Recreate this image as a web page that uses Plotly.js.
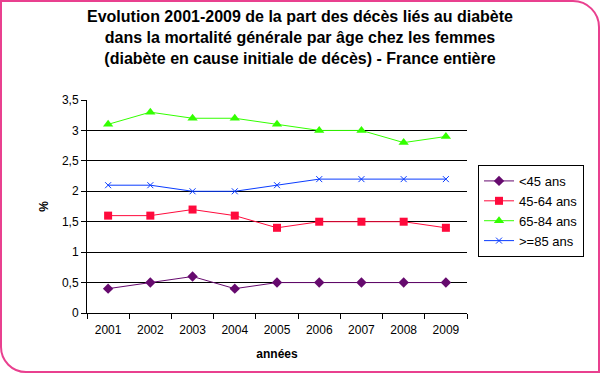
<!DOCTYPE html>
<html>
<head>
<meta charset="utf-8">
<script src="https://cdn.plot.ly/plotly-3.0.1.min.js"></script>
<style>
  html, body { margin: 0; padding: 0; background: #fff; }
  #wrap { position: relative; width: 600px; height: 374px; }
  #chart { position: absolute; left: 0; top: 0; width: 600px; height: 374px; }
  #frame { position: absolute; left: 0; top: 0; width: 600px; height: 373px; box-sizing: border-box;
           border: 2px solid #e9408f; border-radius: 0 27px 0 26px; pointer-events: none; }
</style>
</head>
<body>
<div id="wrap">
  <div id="chart"></div>
  <div id="frame"></div>
</div>
<script>
const years = ["2001","2002","2003","2004","2005","2006","2007","2008","2009"];
const under45 = [0.4, 0.5, 0.6, 0.4, 0.5, 0.5, 0.5, 0.5, 0.5];
const age45to64 = [1.6, 1.6, 1.7, 1.6, 1.4, 1.5, 1.5, 1.5, 1.4];
const age65to84 = [3.1, 3.3, 3.2, 3.2, 3.1, 3.0, 3.0, 2.8, 2.9];
const over85 = [2.1, 2.1, 2.0, 2.0, 2.1, 2.2, 2.2, 2.2, 2.2];
const seriesNames = ["<45 ans", "45-64 ans", "65-84 ans", ">=85 ans"];
const yTickVals = [0, 0.5, 1, 1.5, 2, 2.5, 3, 3.5];
const yTickText = ["0", "0,5", "1", "1,5", "2", "2,5", "3", "3,5"];

const FONT = "Arial, 'Liberation Sans', sans-serif";

function tr(y, name, color, symbol, size, lw) {
  return {
    x: years, y: y, name: name, type: 'scatter', mode: 'lines+markers',
    line: { color: color, width: 1 },
    marker: { color: color, symbol: symbol, size: size, line: { color: color, width: lw } }
  };
}

const data = [
  tr(under45, seriesNames[0], '#660a6e', 'diamond', 8, 0),
  tr(age45to64, seriesNames[1], '#ff0a3c', 'square', 8, 0),
  tr(age65to84, seriesNames[2], '#33ff00', 'triangle-up', 9, 0),
  tr(over85, seriesNames[3], '#0a3cff', 'x-thin', 6, 1)
];

const layout = {
  width: 600, height: 374,
  margin: { l: 87, r: 133, t: 100, b: 61 },
  paper_bgcolor: '#ffffff', plot_bgcolor: '#ffffff',
  font: { family: FONT, size: 12, color: '#000' },
  title: {
    text: "Evolution 2001-2009 de la part des décès liés au diabète<br>dans la mortalité générale par âge chez les femmes<br>(diabète en cause initiale de décès) - France entière",
    font: { family: FONT, size: 16, weight: 'bold', color: '#000' },
    x: 0.5, xref: 'container', xanchor: 'center',
    y: 0.94, yref: 'container', yanchor: 'top'
  },
  xaxis: {
    type: 'category', range: [-0.5, 8.5],
    tickson: 'boundaries', ticks: 'outside', ticklen: 5, tickcolor: '#000', tickwidth: 1,
    ticklabelstandoff: 6,
    showline: true, linecolor: '#000', linewidth: 1,
    showgrid: false, zeroline: false,
    tickfont: { family: FONT, size: 12, color: '#000' },
    title: { text: 'années', font: { family: FONT, size: 12, weight: 'bold', color: '#000' }, standoff: 13 }
  },
  yaxis: {
    range: [0, 3.5], tickvals: yTickVals, ticktext: yTickText,
    ticks: 'outside', ticklen: 5, tickcolor: '#000',
    showline: true, linecolor: '#000', linewidth: 1,
    showgrid: true, gridcolor: '#000', gridwidth: 1, zeroline: false,
    tickfont: { family: FONT, size: 12, color: '#000' },
    title: { text: '%', font: { family: FONT, size: 12, weight: 'bold', color: '#000' }, standoff: 10 }
  },
  legend: {
    x: 1.029, xanchor: 'left', y: 0.695, yanchor: 'top',
    bordercolor: '#000', borderwidth: 1, bgcolor: '#fff',
    font: { family: FONT, size: 13, color: '#000' },
    tracegroupgap: 0
  },
  showlegend: true
};

Plotly.newPlot('chart', data, layout, { displayModeBar: false, staticPlot: true });
</script>
</body>
</html>
